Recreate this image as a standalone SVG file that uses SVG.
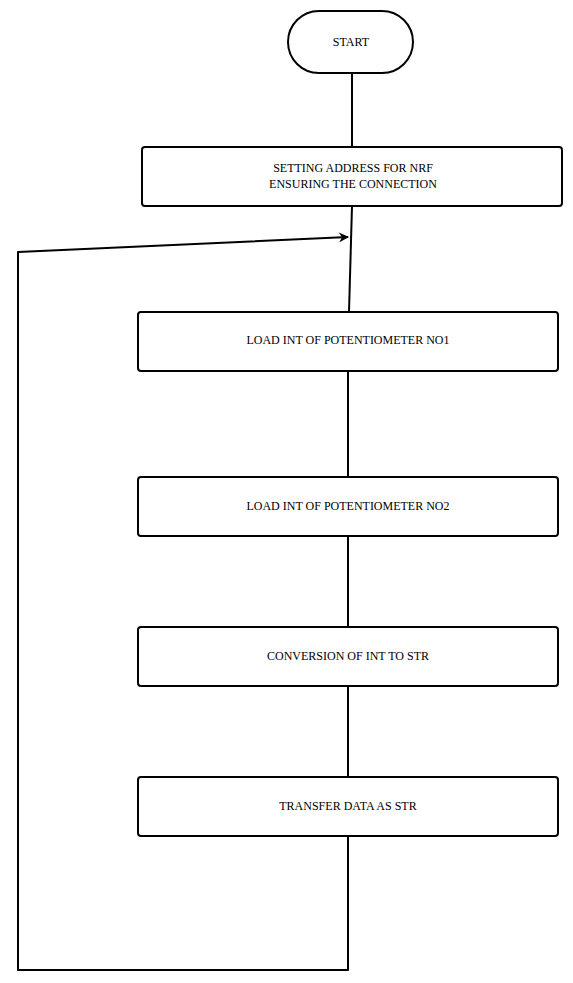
<svg xmlns="http://www.w3.org/2000/svg" width="573" height="983" viewBox="0 0 573 983">
  <style>
    .box { fill: #ffffff; stroke: #000000; stroke-width: 2; }
    .lbl { font-family: "Liberation Serif", "Times New Roman", serif; font-size: 12px; fill: #000000; text-anchor: middle; }
    .edge { fill: none; stroke: #000000; stroke-width: 2; stroke-linejoin: round; }
  </style>
  <defs>
    <marker id="arrow" viewBox="0 0 10 10" refX="9" refY="5" markerWidth="12" markerHeight="10" markerUnits="userSpaceOnUse" orient="auto">
      <path d="M0,0 L10,5 L0,10 L3,5 Z" fill="#000000"/>
    </marker>
  </defs>
  <rect width="573" height="983" fill="#ffffff"/>

  <g id="connectors">
    <line class="edge" x1="352" y1="73" x2="352" y2="147"/>
    <line class="edge" x1="352" y1="206" x2="349" y2="312"/>
    <line class="edge" x1="348" y1="371" x2="348" y2="477"/>
    <line class="edge" x1="348" y1="536" x2="348" y2="627"/>
    <line class="edge" x1="348" y1="686" x2="348" y2="777"/>
    <polyline class="edge" points="348,836 348,970 18,970 18,252 348,237" marker-end="url(#arrow)"/>
  </g>

  <g id="start">
    <rect class="box" x="288" y="11" width="125" height="62" rx="31" ry="31"/>
    <text class="lbl" x="351" y="46">START</text>
  </g>

  <g id="setup">
    <rect class="box" x="142" y="147" width="420" height="59" rx="3" ry="3"/>
    <text class="lbl" x="353" y="172">SETTING ADDRESS FOR NRF</text>
    <text class="lbl" x="353" y="188">ENSURING THE CONNECTION</text>
  </g>

  <g id="pot1">
    <rect class="box" x="138" y="312" width="420" height="59" rx="3" ry="3"/>
    <text class="lbl" x="348" y="344">LOAD INT OF POTENTIOMETER NO1</text>
  </g>

  <g id="pot2">
    <rect class="box" x="138" y="477" width="420" height="59" rx="3" ry="3"/>
    <text class="lbl" x="348" y="510">LOAD INT OF POTENTIOMETER NO2</text>
  </g>

  <g id="convert">
    <rect class="box" x="138" y="627" width="420" height="59" rx="3" ry="3"/>
    <text class="lbl" x="348" y="660">CONVERSION OF INT TO STR</text>
  </g>

  <g id="transfer">
    <rect class="box" x="138" y="777" width="420" height="59" rx="3" ry="3"/>
    <text class="lbl" x="348" y="810">TRANSFER DATA AS STR</text>
  </g>
</svg>
